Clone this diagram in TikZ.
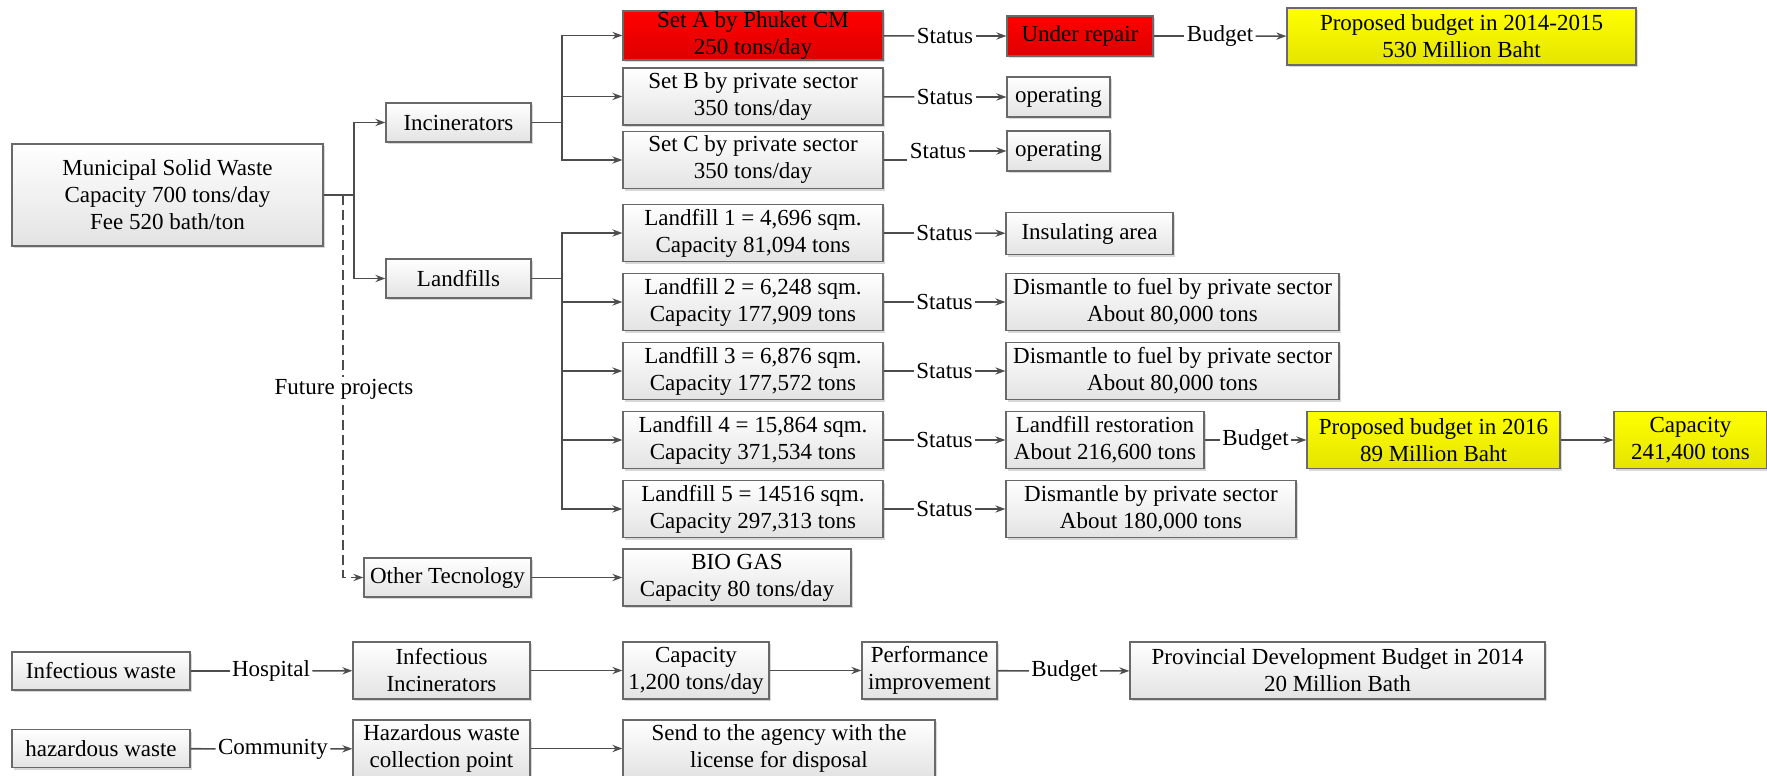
\documentclass[tikz,border=0pt]{standalone}
\usepackage{fontspec}
\setmainfont{Liberation Serif}
\usepackage{tikz}
\usetikzlibrary{arrows.meta}
\usetikzlibrary{shadows}
\definecolor{lncol}{RGB}{77,77,77}
\definecolor{bdcol}{RGB}{105,105,105}
\definecolor{redtop}{RGB}{255,0,0}
\definecolor{redbot}{RGB}{222,0,0}
\definecolor{yeltop}{RGB}{255,255,0}
\definecolor{yelbot}{RGB}{228,228,0}

\begin{document}
\begin{tikzpicture}[x=0.5pt,y=-0.5pt,
  box/.style={draw=bdcol, line width=0.6pt, top color=white, bottom color=black!11,
    align=center, inner xsep=1pt, inner ysep=0pt, font=\fontsize{11.5}{13.5}\selectfont,
    drop shadow={shadow xshift=1pt, shadow yshift=-1pt, fill=black!30, opacity=0.5}},
  redbox/.style={box, top color=redtop, bottom color=redbot},
  yelbox/.style={box, top color=yeltop, bottom color=yelbot},
  lbl/.style={inner sep=1pt, font=\fontsize{11.5}{13.5}\selectfont},
  ln/.style={draw=lncol, line width=0.8pt},
  arr/.style={ln, -{Stealth[length=5pt,width=3.6pt]}}]
  \useasboundingbox (0,0) rectangle (1767,776);

  \node[box, minimum width=155.5pt, minimum height=51pt] (msw) at (167.5,195) {Municipal Solid Waste\\Capacity 700 tons/day\\Fee 520 bath/ton};
  \node[box, minimum width=72.5pt, minimum height=19.5pt] (inc) at (458.5,122.5) {Incinerators};
  \node[box, minimum width=72.5pt, minimum height=19.5pt] (land) at (458.5,278.5) {Landfills};
  \node[box, minimum width=83.5pt, minimum height=19.5pt] (other) at (447.5,577.5) {Other Tecnology};

  \node[redbox, minimum width=130pt, minimum height=24.5pt] (setA) at (753,35.5) {Set A by Phuket CM\\250 tons/day};
  \node[box, minimum width=130pt, minimum height=28.5pt] (setB) at (753,96.5) {Set B by private sector\\350 tons/day};
  \node[box, minimum width=130pt, minimum height=28.5pt] (setC) at (753,160) {Set C by private sector\\350 tons/day};
  \node[redbox, minimum width=73pt, minimum height=20pt] (repair) at (1080,36) {Under repair};
  \node[yelbox, minimum width=174.5pt, minimum height=28.5pt] (budA) at (1461.5,36.5) {Proposed budget in 2014-2015\\530 Million Baht};
  \node[box, minimum width=51.5pt, minimum height=20pt] (opB) at (1058.5,97) {operating};
  \node[box, minimum width=51.5pt, minimum height=20pt] (opC) at (1058.5,151) {operating};

  \node[box, minimum width=130pt, minimum height=28.5pt] (lf1) at (753,233) {Landfill 1 = 4,696 sqm.\\Capacity 81,094 tons};
  \node[box, minimum width=130pt, minimum height=28.5pt] (lf2) at (753,302) {Landfill 2 = 6,248 sqm.\\Capacity 177,909 tons};
  \node[box, minimum width=130pt, minimum height=28.5pt] (lf3) at (753,371) {Landfill 3 = 6,876 sqm.\\Capacity 177,572 tons};
  \node[box, minimum width=130pt, minimum height=28.5pt] (lf4) at (753,440) {Landfill 4 = 15,864 sqm.\\Capacity 371,534 tons};
  \node[box, minimum width=130pt, minimum height=28.5pt] (lf5) at (753,509) {Landfill 5 = 14516 sqm.\\Capacity 297,313 tons};
  \node[box, minimum width=83.5pt, minimum height=21pt] (ins) at (1089.5,233.5) {Insulating area};
  \node[box, minimum width=166.5pt, minimum height=28.5pt] (dis2) at (1172.5,302) {Dismantle to fuel by private sector\\About 80,000 tons};
  \node[box, minimum width=166.5pt, minimum height=28.5pt] (dis3) at (1172.5,371) {Dismantle to fuel by private sector\\About 80,000 tons};
  \node[box, minimum width=99pt, minimum height=28.5pt] (rest) at (1105,440) {Landfill restoration\\About 216,600 tons};
  \node[yelbox, minimum width=126.5pt, minimum height=28.5pt] (bud4) at (1433.5,440) {Proposed budget in 2016\\89 Million Baht};
  \node[yelbox, minimum width=76.5pt, minimum height=28.5pt] (cap4) at (1690.5,440) {Capacity\\241,400 tons};
  \node[box, minimum width=145pt, minimum height=28.5pt] (dis5) at (1151,509) {Dismantle by private sector\\About 180,000 tons};
  \node[box, minimum width=114pt, minimum height=28.5pt] (bio) at (737,577.5) {BIO GAS\\Capacity 80 tons/day};

  \node[box, minimum width=89pt, minimum height=19pt] (infw) at (101,671) {Infectious waste};
  \node[box, minimum width=88.5pt, minimum height=28.5pt] (infinc) at (441.5,670.5) {Infectious\\Incinerators};
  \node[box, minimum width=73pt, minimum height=28.5pt] (cap12) at (696,670.5) {Capacity\\1,200 tons/day};
  \node[box, minimum width=67.5pt, minimum height=28.5pt] (perf) at (929.5,670.5) {Performance\\improvement};
  \node[box, minimum width=207.5pt, minimum height=28.5pt] (prov) at (1337.5,670.5) {Provincial Development Budget in 2014\\20 Million Bath};
  \node[box, minimum width=89pt, minimum height=19pt] (hazw) at (101,748.5) {hazardous waste};
  \node[box, minimum width=88.5pt, minimum height=28.5pt] (hazc) at (441.5,748.5) {Hazardous waste\\collection point};
  \node[box, minimum width=156pt, minimum height=28.5pt] (send) at (779,748.5) {Send to the agency with the\\license for disposal};

  \coordinate (jm) at (354,195);
  \coordinate (jf) at (343,195);
  \coordinate (ji) at (562,122.5);
  \coordinate (jl) at (562,278.5);

  \draw[ln] (msw.east) -- (jm);
  \draw[arr] (jm) |- (inc.west);
  \draw[arr] (jm) |- (land.west);
  \draw[arr, dash pattern=on 5pt off 2.5pt] (jf) |- (other.west);
  \node[lbl, fill=white] (fut) at (344,389) {Future projects};

  \draw[ln] (inc.east) -- (ji);
  \foreach \n in {setA,setB,setC}
    \draw[arr] (ji) |- (\n.west);
  \draw[ln] (land.east) -- (jl);
  \foreach \i in {1,...,5}
    \draw[arr] (jl) |- (lf\i.west);
  \draw[arr] (other) -- (bio);

  \node[lbl] (stA) at (945,36) {Status};
  \draw[ln] (setA) -- (stA);
  \draw[arr] (stA) -- (repair);
  \node[lbl] (bgA) at (1220,36) {Budget};
  \draw[ln] (repair) -- (bgA);
  \draw[arr] (bgA) -- (budA);
  \node[lbl] (stB) at (945,97) {Status};
  \draw[ln] (setB) -- (stB);
  \draw[arr] (stB) -- (opB);
  \node[lbl] (stC) at (938,151) {Status};
  \draw[ln] (setC.east) -- (setC.east -| stC.west);
  \draw[arr] (stC) -- (opC);

  \foreach \i/\t/\y in {1/ins/233,2/dis2/302,3/dis3/371,4/rest/440,5/dis5/509}{
    \node[lbl] (st\i) at (944.5,\y) {Status};
    \draw[ln] (lf\i) -- (st\i);
    \draw[arr] (st\i) -- (\t);
  }
  \node[lbl] (bg4) at (1255.5,440) {Budget};
  \draw[ln] (rest) -- (bg4);
  \draw[arr] (bg4) -- (bud4);
  \draw[arr] (bud4) -- (cap4);

  \node[lbl] (hosp) at (271,671) {Hospital};
  \draw[ln] (infw) -- (hosp);
  \draw[arr] (hosp) -- (infinc);
  \draw[arr] (infinc) -- (cap12);
  \draw[arr] (cap12) -- (perf);
  \node[lbl] (bgP) at (1064.5,671) {Budget};
  \draw[ln] (perf) -- (bgP);
  \draw[arr] (bgP) -- (prov);

  \node[lbl] (comm) at (273,749) {Community};
  \draw[ln] (hazw) -- (comm);
  \draw[arr] (comm) -- (hazc);
  \draw[arr] (hazc) -- (send);
\end{tikzpicture}
\end{document}
